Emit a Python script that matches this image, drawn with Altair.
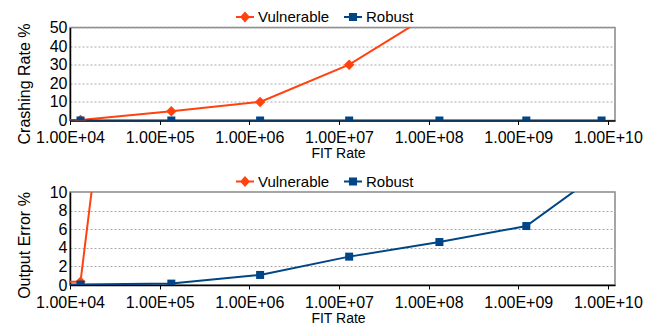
import json
import altair as alt
import pandas as pd

# ---- data ----
fit_rate = [1.3e3, 1.31e4, 1.35e5, 1.32e6, 1.3e7, 1.32e8, 1.23e9, 8.5e9]
crash_vulnerable = [0.3, 0.3, 5.0, 10.0, 30.0, 60.0]
crash_robust = [0, 0, 0, 0, 0, 0, 0, 0]
error_vulnerable = [0.3, 0.35, 80.0]
error_robust = [0.05, 0.05, 0.15, 1.08, 3.05, 4.62, 6.34, 12.2]

series_names = ["Vulnerable", "Robust"]
series_colors = ["#ff420e", "#004586"]
series_shapes = ["diamond", "square"]
series_sizes = [110, 64]
tick_values = [1e4, 1e5, 1e6, 1e7, 1e8, 1e9, 1e10]
tick_labels = ["1.00E+04", "1.00E+05", "1.00E+06", "1.00E+07",
               "1.00E+08", "1.00E+09", "1.00E+10"]
crash_ticks = [0, 10, 20, 30, 40, 50]
error_ticks = [0, 2, 4, 6, 8, 10]

FONT = "Liberation Sans"

# legend symbols: a short line with the marker in the middle
legend_paths = [
    "M-1,-0.12H-0.45L0,-0.6L0.45,-0.12H1V0.12H0.45L0,0.6L-0.45,0.12H-1Z",
    "M-1,-0.12H-0.45V-0.45H0.45V-0.12H1V0.12H0.45V0.45H-0.45V0.12H-1Z",
]


def make_frame(vuln, rob):
    rows = []
    for name, vals in zip(series_names, [vuln, rob]):
        for x, y in zip(fit_rate, vals):
            rows.append({"fit": x, "value": y, "series": name})
    return pd.DataFrame(rows)


label_expr = json.dumps(tick_labels) + "[round(log(datum.value)/LN10) - 4]"


def panel(df, ytitle, ydomain, yticks, title_y):
    base = alt.Chart(df)
    x = alt.X(
        "fit:Q",
        scale=alt.Scale(type="log", domain=[1e4, 1.2e10], nice=False),
        axis=alt.Axis(
            values=tick_values, labelExpr=label_expr, title="FIT Rate",
            titleX=268, titleY=26, titleFontSize=14, grid=False,
            tickSize=4, labelPadding=5, labelFlush=False, labelOverlap=False,
        ),
    )
    y = alt.Y(
        "value:Q",
        scale=alt.Scale(domain=ydomain, nice=False, zero=False),
        axis=alt.Axis(
            values=yticks, title=ytitle, titleX=-38, titleY=title_y,
            titleAngle=270, titleBaseline="bottom", titleAlign="center",
            titleFontSize=16, grid=True, gridDash=[2, 2], gridColor="#a8a8a8",
            ticks=False, labelPadding=3,
        ),
    )
    layers = []
    for name, col in zip(series_names, series_colors):
        sub = base.transform_filter(alt.datum.series == name)
        layers.append(sub.mark_line(clip=True, strokeWidth=2, color=col).encode(x=x, y=y))
    for name, col, shp, sz in zip(series_names, series_colors, series_shapes, series_sizes):
        sub = base.transform_filter(alt.datum.series == name)
        layers.append(
            sub.mark_point(shape=shp, filled=True, size=sz, opacity=1, clip=True, color=col)
            .encode(x=x, y=y)
        )
    leg = alt.Legend(
        orient="none", legendX=166, legendY=-19.5, direction="horizontal",
        title=None, symbolSize=324, symbolStrokeWidth=0, labelFontSize=15,
        labelFont=FONT, labelColor="black", columnPadding=14, labelOffset=4,
    )
    # legend carrier: only the off-scale points left of the axis (clipped away)
    legend_layer = (
        base.transform_filter(alt.datum.fit < 1e4)
        .mark_point(filled=True, opacity=1, clip=True)
        .encode(
            x=x, y=y,
            color=alt.Color("series:N",
                            scale=alt.Scale(domain=series_names, range=series_colors),
                            legend=leg),
            shape=alt.Shape("series:N",
                            scale=alt.Scale(domain=series_names, range=legend_paths),
                            legend=leg),
        )
    )
    layers.append(legend_layer)
    return alt.layer(*layers).properties(width=545, height=93)


top = panel(make_frame(crash_vulnerable, crash_robust), "Crashing Rate %",
            [0, 50], crash_ticks, 56)
bottom = panel(make_frame(error_vulnerable, error_robust), "Output Error %",
               [0, 10], error_ticks, 53)

chart = (
    alt.vconcat(top, bottom, spacing=9.5)
    .resolve_scale(color="independent", shape="independent", y="independent")
    .resolve_legend(color="independent", shape="independent")
    .properties(padding={"left": 7, "top": -1.5, "right": 0, "bottom": 0})
    .configure_view(stroke="#888888", strokeWidth=1.5)
    .configure_axis(
        labelFont=FONT, labelFontSize=16, labelColor="black",
        titleFont=FONT, titleFontWeight="normal", titleColor="black",
        domainColor="black", domainWidth=1.5, tickColor="black",
    )
)

chart.save("out.html", embed_options={"renderer": "svg", "actions": False})
